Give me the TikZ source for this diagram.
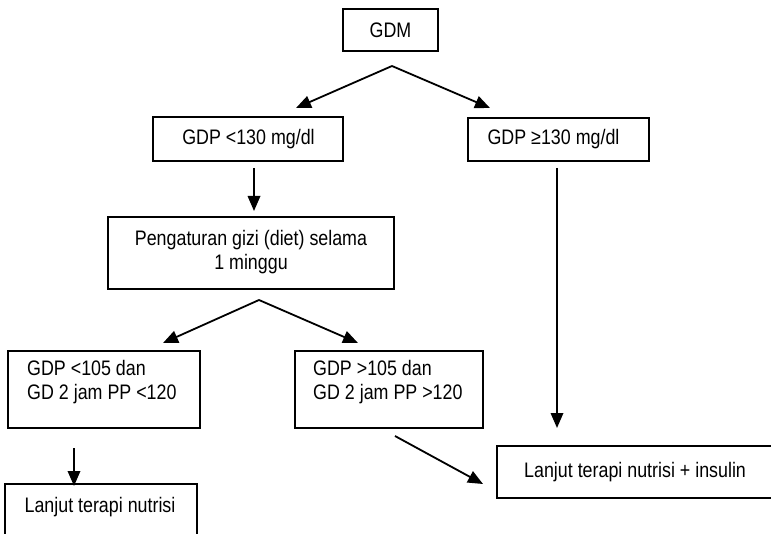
\documentclass[tikz,border=0pt]{standalone}
\usepackage{fontspec}
\setmainfont[FakeStretch=0.85]{Liberation Sans}
\usetikzlibrary{arrows.meta}
\begin{document}
\begin{tikzpicture}[x=1pt,y=-1pt,
  box/.style={draw, line width=1.5pt, inner sep=0pt},
  txt/.style={inner sep=0pt, font=\fontsize{21}{24}\selectfont},
  arr/.style={line width=1.8pt, -{Triangle[length=15pt,width=12.5pt]}}]
\useasboundingbox (0,0) rectangle (771,534);
\clip (0,0) rectangle (771,534);
% boxes
\node[box, minimum width=95pt, minimum height=42pt] (gdm) at (390.5,30) {};
\node[txt] (gdmt) at (390.5,30) {GDM};
\node[box, minimum width=190pt, minimum height=44pt] (lo) at (248,139) {};
\node[txt] (lot) at (248.5,139) {GDP <130 mg/dl};
\node[box, minimum width=181pt, minimum height=43pt] (hi) at (558.5,139.5) {};
\node[txt] (hit) at (553.5,139.5) {GDP ≥130 mg/dl};
\node[box, minimum width=286pt, minimum height=72pt] (diet) at (251,253) {};
\node[txt, align=center] (dietxt) at (251,252) {Pengaturan gizi (diet) selama\\1 minggu};
\node[box, minimum width=192pt, minimum height=77pt] (ok) at (104,389.5) {};
\node[txt, anchor=north west, align=left] (okt) at (27,360) {GDP <105 dan\\GD 2 jam PP <120};
\node[box, minimum width=188pt, minimum height=77pt] (bad) at (389,389.5) {};
\node[txt, anchor=north west, align=left] (badt) at (313,360) {GDP >105 dan\\GD 2 jam PP >120};
\node[box, minimum width=192pt, minimum height=80pt] (nut) at (101,524) {};
\node[txt] (nutt) at (100,507) {Lanjut terapi nutrisi};
\node[box, minimum width=300pt, minimum height=52pt] (ins) at (647,472) {};
\node[txt, anchor=west] (inst) at (524,472) {Lanjut terapi nutrisi + insulin};
% connector points
\coordinate (s1) at (392,66);
\coordinate (t1a) at (296,108);
\coordinate (t1b) at (490,108);
\coordinate (d1s) at (254,168);
\coordinate (d1e) at (254,211);
\coordinate (d2s) at (557,168);
\coordinate (d2e) at (557,428);
\coordinate (s2) at (259,300);
\coordinate (t2a) at (163,343);
\coordinate (t2b) at (358,343);
\coordinate (d3s) at (74,448);
\coordinate (d3e) at (74,486);
\coordinate (d4s) at (395,436);
\coordinate (d4e) at (483,484);
% connectors
\draw[arr] (s1) -- (t1a);
\draw[arr] (s1) -- (t1b);
\draw[arr] (d1s) -- (d1e);
\draw[arr] (d2s) -- (d2e);
\draw[arr] (s2) -- (t2a);
\draw[arr] (s2) -- (t2b);
\draw[arr] (d3s) -- (d3e);
\draw[arr] (d4s) -- (d4e);
\end{tikzpicture}
\end{document}
